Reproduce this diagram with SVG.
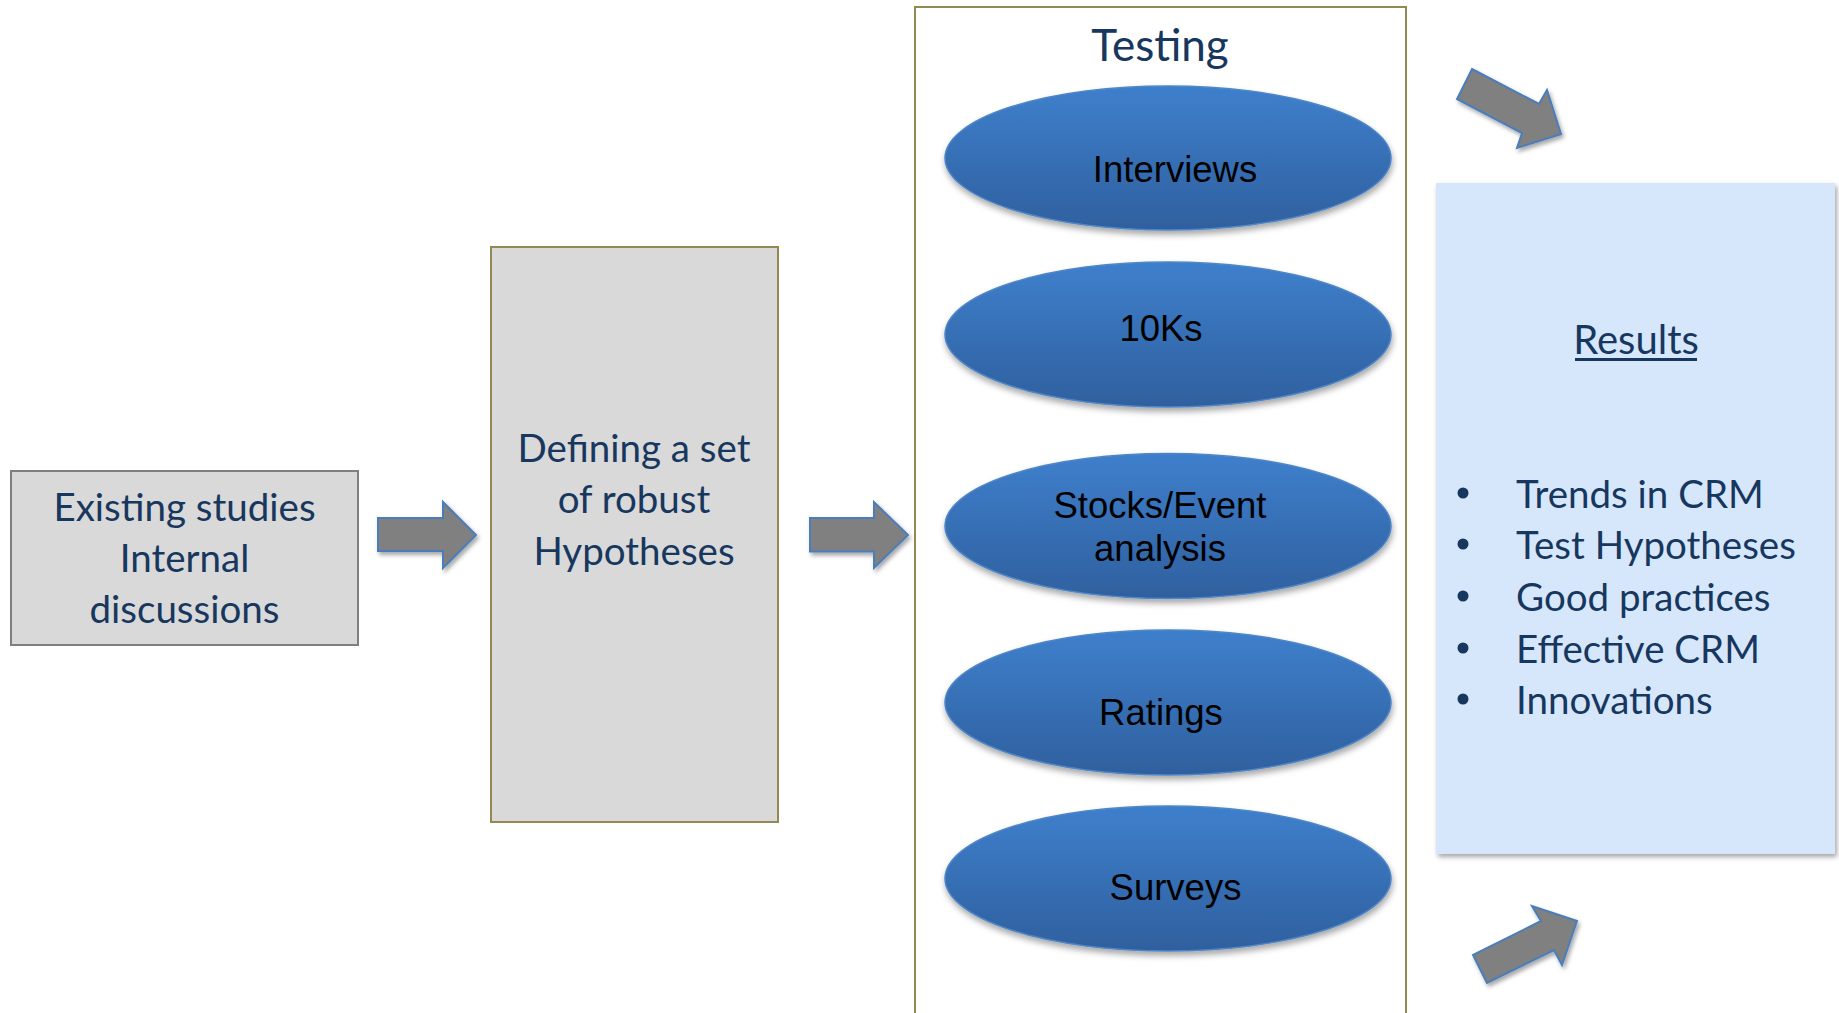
<svg xmlns="http://www.w3.org/2000/svg" width="1839" height="1013" viewBox="0 0 1839 1013">
<defs>
<linearGradient id="eg" x1="0" y1="0" x2="0" y2="1">
<stop offset="0" stop-color="#3e7fcc"/>
<stop offset="1" stop-color="#2f609f"/>
</linearGradient>
<filter id="sh" x="-10%" y="-15%" width="125%" height="140%">
<feDropShadow dx="1" dy="4" stdDeviation="3" flood-color="#000" flood-opacity="0.35"/>
</filter>
<filter id="ash" x="-20%" y="-20%" width="150%" height="160%">
<feDropShadow dx="2" dy="3" stdDeviation="2" flood-color="#000" flood-opacity="0.35"/>
</filter>
<filter id="rsh" x="-5%" y="-5%" width="110%" height="110%">
<feDropShadow dx="2" dy="3" stdDeviation="2.5" flood-color="#000" flood-opacity="0.35"/>
</filter>
</defs>
<style>
.cal{font-family:Lato,"Open Sans","Noto Sans",sans-serif;fill:#17375e;font-size:38.5px}
.ar{font-family:"Liberation Sans",Arial,sans-serif;fill:#000;font-size:36.5px;text-anchor:middle}
.mid{text-anchor:middle}
.ell{fill:url(#eg);stroke:#4f86c6;stroke-width:1.5;filter:url(#sh)}
.arrow{fill:#808080;stroke:#4a7ebb;stroke-width:2;stroke-linejoin:miter;filter:url(#ash)}
</style>
<rect width="1839" height="1013" fill="#fff"/>

<g id="existing">
<rect x="11" y="471" width="347" height="174" fill="#d9d9d9" stroke="#7f7f7f" stroke-width="2"/>
<text class="cal mid" x="184.5" y="521">Existing studies</text>
<text class="cal mid" x="184.5" y="572">Internal</text>
<text class="cal mid" x="184.5" y="623">discussions</text>
</g>

<g id="hypotheses">
<rect x="491" y="247" width="287" height="575" fill="#d9d9d9" stroke="#938953" stroke-width="2"/>
<text class="cal mid" x="634" y="462">Defining a set</text>
<text class="cal mid" x="634" y="513">of robust</text>
<text class="cal mid" x="634" y="565">Hypotheses</text>
</g>

<g id="testing">
<rect x="915" y="7" width="491" height="1020" fill="#fff" stroke="#938953" stroke-width="2"/>
<text class="cal mid" x="1160" y="61" style="font-size:44px">Testing</text>
</g>

<g id="interviews">
<ellipse class="ell" cx="1168" cy="158" rx="223" ry="72"/>
<text class="ar" x="1175" y="181.5">Interviews</text>
</g>
<g id="tenks">
<ellipse class="ell" cx="1168" cy="334.5" rx="223" ry="72.5"/>
<text class="ar" x="1161" y="340.5">10Ks</text>
</g>
<g id="stocks">
<ellipse class="ell" cx="1168" cy="526" rx="223" ry="72.5"/>
<text class="ar" x="1160" y="517.5">Stocks/Event</text>
<text class="ar" x="1160" y="560.5">analysis</text>
</g>
<g id="ratings">
<ellipse class="ell" cx="1168" cy="702.5" rx="223" ry="72.5"/>
<text class="ar" x="1161" y="725">Ratings</text>
</g>
<g id="surveys">
<ellipse class="ell" cx="1168" cy="878.5" rx="223" ry="72.5"/>
<text class="ar" x="1175.5" y="900">Surveys</text>
</g>

<g id="results">
<rect x="1436" y="183" width="399" height="671" fill="#d6e7fc" filter="url(#rsh)"/>
<text class="cal mid" x="1636" y="354" style="font-size:40px">Results</text>
<rect x="1575" y="358" width="122" height="3" fill="#17375e"/>
<g fill="#17375e">
<circle cx="1463" cy="493" r="5.5"/>
<circle cx="1463" cy="544" r="5.5"/>
<circle cx="1463" cy="596" r="5.5"/>
<circle cx="1463" cy="648" r="5.5"/>
<circle cx="1463" cy="699" r="5.5"/>
</g>
<text class="cal" x="1516" y="508">Trends in CRM</text>
<text class="cal" x="1516" y="559">Test Hypotheses</text>
<text class="cal" x="1516" y="611">Good practices</text>
<text class="cal" x="1516" y="663">Effective CRM</text>
<text class="cal" x="1516" y="714">Innovations</text>
</g>

<g id="connectors">
<polygon class="arrow" points="378,518 443,518 443,502 476,535 443,568 443,551 378,551"/>
<polygon class="arrow" points="810,518 874,518 874,502 908,535 874,568 874,551.5 810,551.5"/>
<polygon class="arrow" points="1472,69 1539,104 1547,90 1561,134 1517,148 1522,133 1457,99"/>
<polygon class="arrow" points="1487,983 1473,955 1541,921 1532,906 1577,921 1562,965 1554,950"/>
</g>
</svg>
